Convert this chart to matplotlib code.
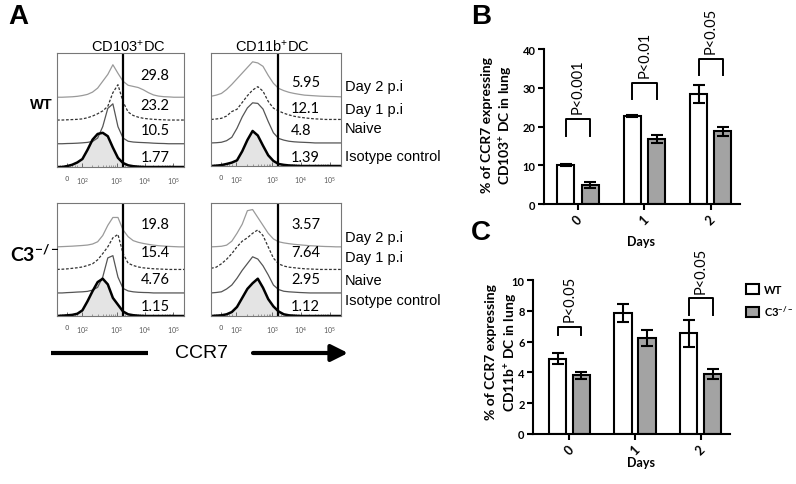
import matplotlib.pyplot as plt
import numpy as np

W, H = 796, 485

# channel position across each flow box (0 = left edge, 1 = right edge)
chan = [0.00, 0.04, 0.08, 0.12, 0.16, 0.20, 0.24, 0.28, 0.32, 0.36, 0.40, 0.44, 0.48,
        0.52, 0.56, 0.60, 0.64, 0.68, 0.72, 0.76, 0.80, 0.84, 0.88, 0.92, 0.96, 1.00]

# histogram heights (fraction of box height above each trace's baseline)
cd103_wt_iso = [0, 0, 0.008, 0.02, 0.04, 0.07, 0.15, 0.24, 0.29, 0.30, 0.27, 0.17, 0.08,
                0.035, 0.015, 0.007, 0.003, 0, 0, 0, 0, 0, 0, 0, 0, 0]
cd103_wt_naive = [0, 0, 0.002, 0.003, 0.005, 0.008, 0.012, 0.02, 0.05, 0.15, 0.31, 0.35, 0.15,
                  0.05, 0.022, 0.015, 0.012, 0.01, 0.008, 0.005, 0.003, 0.002, 0, 0, 0, 0]
cd103_wt_d1 = [0, 0, 0.002, 0.004, 0.006, 0.01, 0.02, 0.035, 0.055, 0.08, 0.12, 0.24, 0.31,
               0.16, 0.07, 0.04, 0.025, 0.015, 0.01, 0.006, 0.004, 0.002, 0, 0, 0, 0]
cd103_wt_d2 = [0, 0, 0.002, 0.004, 0.008, 0.015, 0.025, 0.045, 0.08, 0.14, 0.20, 0.285, 0.21,
               0.14, 0.105, 0.095, 0.085, 0.065, 0.04, 0.02, 0.01, 0.005, 0.003, 0, 0, 0]

cd11b_wt_iso = [0, 0.003, 0.008, 0.018, 0.03, 0.05, 0.13, 0.23, 0.31, 0.27, 0.18, 0.095, 0.045,
                0.018, 0.01, 0.005, 0.003, 0, 0, 0, 0, 0, 0, 0, 0, 0]
cd11b_wt_naive = [0, 0.002, 0.006, 0.02, 0.05, 0.13, 0.23, 0.31, 0.355, 0.35, 0.30, 0.19, 0.09,
                  0.04, 0.025, 0.015, 0.01, 0.007, 0.005, 0.003, 0, 0, 0, 0, 0, 0]
cd11b_wt_d1 = [0, 0.004, 0.01, 0.03, 0.07, 0.09, 0.15, 0.21, 0.26, 0.29, 0.25, 0.16, 0.10,
               0.075, 0.055, 0.04, 0.028, 0.02, 0.014, 0.009, 0.005, 0.003, 0, 0, 0, 0]
cd11b_wt_d2 = [0.005, 0.015, 0.03, 0.065, 0.11, 0.16, 0.21, 0.26, 0.31, 0.30, 0.27, 0.19, 0.12,
               0.075, 0.055, 0.04, 0.03, 0.022, 0.015, 0.012, 0.009, 0.006, 0.004, 0.003, 0.002, 0]

cd103_ko_iso = [0, 0.003, 0.006, 0.01, 0.02, 0.05, 0.13, 0.22, 0.30, 0.33, 0.28, 0.16, 0.10,
                0.04, 0.015, 0.007, 0.003, 0, 0, 0, 0, 0, 0, 0, 0, 0]
cd103_ko_naive = [0, 0, 0.003, 0.005, 0.008, 0.01, 0.014, 0.025, 0.05, 0.14, 0.31, 0.33, 0.14,
                  0.04, 0.018, 0.01, 0.006, 0.004, 0.003, 0, 0, 0, 0, 0, 0, 0]
cd103_ko_d1 = [0, 0.002, 0.005, 0.01, 0.015, 0.022, 0.035, 0.05, 0.085, 0.14, 0.20, 0.28, 0.31,
               0.14, 0.055, 0.035, 0.022, 0.014, 0.01, 0.006, 0.004, 0.002, 0, 0, 0, 0]
cd103_ko_d2 = [0, 0.002, 0.004, 0.006, 0.009, 0.012, 0.016, 0.025, 0.045, 0.10, 0.19, 0.26, 0.26,
               0.15, 0.09, 0.055, 0.04, 0.03, 0.022, 0.015, 0.01, 0.007, 0.004, 0.002, 0, 0]

cd11b_ko_iso = [0, 0.003, 0.006, 0.015, 0.035, 0.08, 0.16, 0.24, 0.29, 0.33, 0.25, 0.15, 0.085,
                0.04, 0.015, 0.006, 0.003, 0, 0, 0, 0, 0, 0, 0, 0, 0]
cd11b_ko_naive = [0, 0.004, 0.01, 0.035, 0.07, 0.13, 0.20, 0.26, 0.32, 0.30, 0.24, 0.16, 0.07,
                  0.03, 0.015, 0.01, 0.007, 0.004, 0.002, 0, 0, 0, 0, 0, 0, 0]
cd11b_ko_d1 = [0.01, 0.02, 0.05, 0.09, 0.14, 0.20, 0.25, 0.28, 0.32, 0.35, 0.30, 0.20, 0.10,
               0.05, 0.03, 0.02, 0.015, 0.01, 0.006, 0.004, 0.002, 0, 0, 0, 0, 0]
cd11b_ko_d2 = [0, 0.002, 0.005, 0.015, 0.05, 0.12, 0.20, 0.32, 0.33, 0.26, 0.19, 0.12, 0.07,
               0.045, 0.035, 0.028, 0.022, 0.018, 0.014, 0.01, 0.008, 0.005, 0.003, 0.002, 0, 0]

# % CCR7+ in gate, listed Day 2, Day 1, Naive, Isotype
cd103_wt_pct = ['29.8', '23.2', '10.5', '1.77']
cd11b_wt_pct = ['5.95', '12.1', '4.8', '1.39']
cd103_ko_pct = ['19.8', '15.4', '4.76', '1.15']
cd11b_ko_pct = ['3.57', '7.64', '2.95', '1.12']
row_names = ['Day 2 p.i', 'Day 1 p.i', 'Naive', 'Isotype control']
tick_names = ['0', '$10^2$', '$10^3$', '$10^4$', '$10^5$']

# bar charts
days = ['0', '1', '2']
b_wt = [10.1, 22.7, 28.4]
b_wt_err = [0.2, 0.3, 2.3]
b_ko = [4.9, 16.8, 18.8]
b_ko_err = [0.8, 1.1, 1.2]
b_pvals = ['P<0.001', 'P<0.01', 'P<0.05']
b_br_top = [22.0, 31.2, 37.4]
b_br_leg = [17.6, 27.0, 33.3]

c_wt = [4.9, 7.85, 6.55]
c_wt_err = [0.33, 0.6, 0.88]
c_ko = [3.8, 6.23, 3.87]
c_ko_err = [0.25, 0.52, 0.32]
c_groups = [0, 2]
c_pvals = ['P<0.05', 'P<0.05']
c_br_top = [6.97, 8.83]
c_br_leg = [6.43, 7.73]

ARIAL = 'Liberation Sans'
CALI = 'Lato'
plt.rcParams['mathtext.fontset'] = 'custom'
plt.rcParams['mathtext.rm'] = 'Lato'
plt.rcParams['mathtext.bf'] = 'Lato:bold'
plt.rcParams['mathtext.it'] = 'Lato:italic'


def box(x0, y0, x1, y1):
    return [x0 / W, 1 - y1 / H, (x1 - x0) / W, (y1 - y0) / H]


fig = plt.figure(figsize=(W / 100, H / 100), dpi=100)

base = [0.612, 0.412, 0.204, 0.0]
tick_pos = [0.078, 0.196, 0.47, 0.69, 0.914]
minor = []
for a, b in [(0.196, 0.47), (0.47, 0.69), (0.69, 0.914)]:
    for k in range(2, 10):
        minor.append(a + (b - a) * np.log10(k))
minor += [0.02, 0.04, 0.06, 0.10, 0.12, 0.14, 0.16]


def flow(rect, curves, gate):
    ax = fig.add_axes(rect)
    x = np.array(chan)
    d2, d1, nv, iso = [np.array(c) for c in curves]
    ax.plot(x, base[0] + d2, color='#9a9a9a', lw=0.9)
    ax.plot(x, base[1] + d1, color='#333333', lw=0.9, ls=(0, (2.2, 1.4)))
    ax.plot(x, base[2] + nv, color='#555555', lw=0.9)
    ax.fill_between(x, 0, iso, color='#e4e4e4', lw=0)
    ax.plot(x, iso, color='black', lw=1.8)
    ax.axvline(gate, color='black', lw=1.6)
    ax.set_xlim(0, 1)
    ax.set_ylim(0, 1)
    ax.set_yticks([])
    ax.set_xticks(tick_pos)
    ax.set_xticklabels(tick_names)
    ax.set_xticks(minor, minor=True)
    ax.tick_params(axis='x', which='major', direction='in', length=3, width=0.6,
                   colors='#555555', labelsize=5, pad=6)
    ax.tick_params(axis='x', which='minor', direction='in', length=1.5, width=0.5,
                   colors='#777777')
    for s in ax.spines.values():
        s.set_color('#777777')
        s.set_linewidth(0.8)
    return ax


flow(box(57, 54, 184, 168), [cd103_wt_d2, cd103_wt_d1, cd103_wt_naive, cd103_wt_iso], 0.522)
flow(box(211, 54, 341, 167), [cd11b_wt_d2, cd11b_wt_d1, cd11b_wt_naive, cd11b_wt_iso], 0.515)
flow(box(57, 204, 184, 317), [cd103_ko_d2, cd103_ko_d1, cd103_ko_naive, cd103_ko_iso], 0.522)
flow(box(211, 204, 341, 317), [cd11b_ko_d2, cd11b_ko_d1, cd11b_ko_naive, cd11b_ko_iso], 0.515)


def bars(rect, wt, wt_err, ko, ko_err, ymax, yticks, xlim, off, width):
    ax = fig.add_axes(rect)
    x = np.arange(len(days))
    ek = dict(elinewidth=1.5, capthick=1.5, capsize=4, ecolor='black')
    h1 = ax.bar(x - off, wt, width, yerr=wt_err, color='white', edgecolor='black',
                linewidth=1.5, error_kw=ek, label='WT')
    h2 = ax.bar(x + off, ko, width, yerr=ko_err, color='#a3a3a3', edgecolor='black',
                linewidth=1.5, error_kw=ek, label='C3$^{\\mathbf{-/-}}$')
    ax.set_ylim(0, ymax)
    ax.set_xlim(*xlim)
    ax.set_yticks(yticks)
    ax.set_xticks(x)
    ax.set_xticklabels(days, rotation=45, ha='center')
    for lab in ax.get_yticklabels():
        lab.set_fontfamily(CALI)
        lab.set_fontweight('bold')
        lab.set_fontsize(8)
    for lab in ax.get_xticklabels():
        lab.set_fontfamily(CALI)
        lab.set_fontweight('bold')
        lab.set_fontsize(9)
    ax.spines['top'].set_visible(False)
    ax.spines['right'].set_visible(False)
    ax.spines['left'].set_linewidth(1.5)
    ax.spines['bottom'].set_linewidth(1.5)
    ax.tick_params(width=1.5, length=4, pad=2)
    return ax, h1, h2


def bracket(ax, g, top, leg, off, text, gap):
    ax.plot([g - off, g - off, g + off, g + off], [leg, top, top, leg], color='black', lw=1.4)
    ax.text(g, top + gap, text, rotation=90, ha='center', va='bottom',
            fontsize=10.5, family=CALI)


axB, _, _ = bars(box(544, 50, 740, 205), b_wt, b_wt_err, b_ko, b_ko_err, 40,
                 [0, 10, 20, 30, 40], (-0.51, 2.44), 0.184, 0.256)
for g in range(3):
    bracket(axB, g, b_br_top[g], b_br_leg[g], 0.184, b_pvals[g], 1.6)

axC, h1, h2 = bars(box(533, 281, 730, 435), c_wt, c_wt_err, c_ko, c_ko_err, 10,
                   [0, 2, 4, 6, 8, 10], (-0.557, 2.45), 0.183, 0.26)
for i, g in enumerate(c_groups):
    bracket(axC, g, c_br_top[i], c_br_leg[i], 0.183, c_pvals[i], 0.35)

leg = axC.legend(handles=[h1, h2], loc='upper left', bbox_to_anchor=(746 / W, 1 - 285 / H),
                 bbox_transform=fig.transFigure, frameon=False, handlelength=1.15,
                 handleheight=1.0, labelspacing=0.75, handletextpad=0.5, borderpad=0,
                 borderaxespad=0, prop=dict(family=CALI, weight='bold', size=8))

# overlay in pixel coordinates for labels, drawn above every panel
ov = fig.add_axes([0, 0, 1, 1])
ov.set_xlim(0, W)
ov.set_ylim(H, 0)
ov.axis('off')
ov.set_zorder(10)

# numbers inside the gates
for s, y in zip(cd103_wt_pct, [76, 106, 131, 158]):
    ov.text(155, y, s, ha='center', va='center', fontsize=10.5, family=CALI)
for s, y in zip(cd11b_wt_pct, [83, 109, 131, 158]):
    ov.text(291, y, s, ha='left', va='center', fontsize=10.5, family=CALI)
for s, y in zip(cd103_ko_pct, [225, 253, 280, 307]):
    ov.text(155, y, s, ha='center', va='center', fontsize=10.5, family=CALI)
for s, y in zip(cd11b_ko_pct, [225, 253, 280, 307]):
    ov.text(291, y, s, ha='left', va='center', fontsize=10.5, family=CALI)

for s, y in zip(row_names, [87, 110, 129, 157]):
    ov.text(345, y, s, ha='left', va='center', fontsize=10.5, family=ARIAL)
for s, y in zip(row_names, [238, 258, 281, 301]):
    ov.text(345, y, s, ha='left', va='center', fontsize=10.5, family=ARIAL)

ov.text(128, 47, 'CD103$^{+}$DC', ha='center', va='center', fontsize=10.5, family=ARIAL)
ov.text(272, 47, 'CD11b$^{+}$DC', ha='center', va='center', fontsize=10.5, family=ARIAL)
ov.text(41, 105, 'WT', ha='center', va='center', fontsize=10.5, family=ARIAL, weight='bold')
ov.text(35, 254, 'C3$^{\\mathbf{-/-}}$', ha='center', va='center', fontsize=14, family=CALI,
        weight='bold')

ov.text(8, 17, 'A', ha='left', va='center', fontsize=20, family=ARIAL, weight='bold')
ov.text(471, 17, 'B', ha='left', va='center', fontsize=20, family=ARIAL, weight='bold')
ov.text(471, 233, 'C', ha='left', va='center', fontsize=20, family=ARIAL, weight='bold')

# CCR7 axis bar + arrow
ov.plot([51, 148], [354, 354], color='black', lw=3, solid_capstyle='butt')
ov.text(201, 354, 'CCR7', ha='center', va='center', fontsize=14, family=ARIAL)
ov.annotate('', xy=(348, 354), xytext=(253, 354),
            arrowprops=dict(arrowstyle='-|>,head_length=0.5,head_width=0.25', lw=3,
                            color='black', mutation_scale=20, shrinkA=0, shrinkB=0))

for y in (242, 463):
    ov.text(641, y, 'Days', ha='center', va='center', fontsize=9, family=CALI, weight='bold')
ov.text(487, 125, '% of CCR7 expressing', rotation=90, ha='center', va='center',
        fontsize=10, family=CALI, weight='bold')
ov.text(506, 125, 'CD103$^{\\mathbf{+}}$ DC in lung', rotation=90, ha='center', va='center',
        fontsize=10, family=CALI, weight='bold')
ov.text(491, 352, '% of CCR7 expressing', rotation=90, ha='center', va='center',
        fontsize=10, family=CALI, weight='bold')
ov.text(511, 352, 'CD11b$^{\\mathbf{+}}$ DC in lung', rotation=90, ha='center', va='center',
        fontsize=10, family=CALI, weight='bold')

fig.savefig('out.png', dpi=100)
